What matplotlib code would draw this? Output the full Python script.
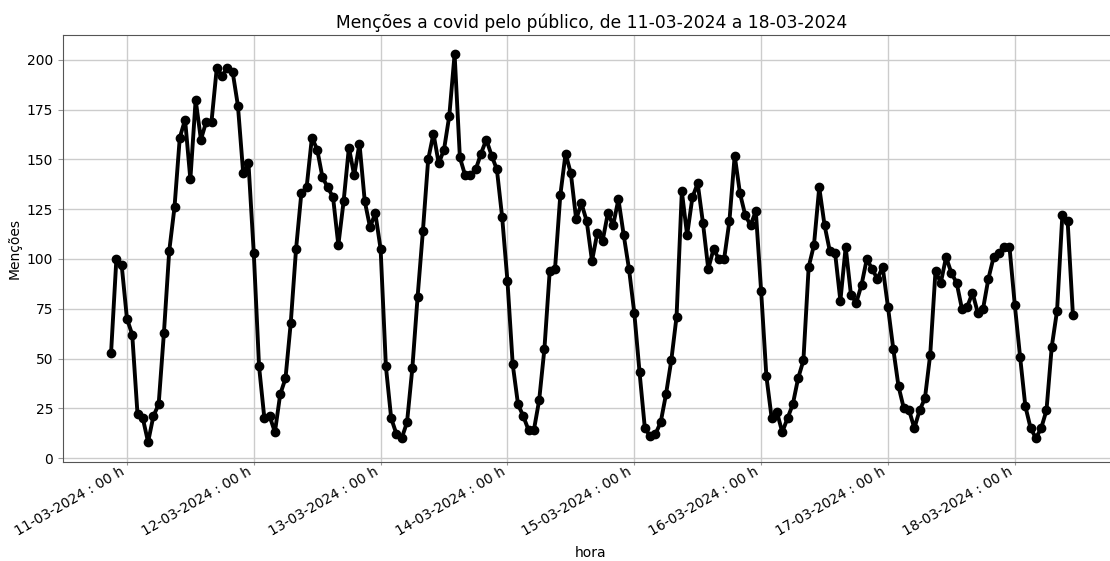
import pandas as pd
import matplotlib
matplotlib.use('Agg')
import matplotlib.pyplot as plt
import matplotlib.dates as mdates

# hourly counts, starting 10-03-2024 21h
inicio = '2024-03-10 21:00'
dia_10 = [53, 100, 97]
dia_11 = [70, 62, 22, 20, 8, 21, 27, 63, 104, 126, 161, 170, 140, 180, 160, 169,
          169, 196, 192, 196, 194, 177, 143, 148]
dia_12 = [103, 46, 20, 21, 13, 32, 40, 68, 105, 133, 136, 161, 155, 141, 136, 131,
          107, 129, 156, 142, 158, 129, 116, 123]
dia_13 = [105, 46, 20, 12, 10, 18, 45, 81, 114, 150, 163, 148, 155, 172, 203, 151,
          142, 142, 145, 153, 160, 152, 145, 121]
dia_14 = [89, 47, 27, 21, 14, 14, 29, 55, 94, 95, 132, 153, 143, 120, 128, 119,
          99, 113, 109, 123, 117, 130, 112, 95]
dia_15 = [73, 43, 15, 11, 12, 18, 32, 49, 71, 134, 112, 131, 138, 118, 95, 105,
          100, 100, 119, 152, 133, 122, 117, 124]
dia_16 = [84, 41, 20, 23, 13, 20, 27, 40, 49, 96, 107, 136, 117, 104, 103, 79,
          106, 82, 78, 87, 100, 95, 90, 96]
dia_17 = [76, 55, 36, 25, 24, 15, 24, 30, 52, 94, 88, 101, 93, 88, 75, 76,
          83, 73, 75, 90, 101, 103, 106, 106]
dia_18 = [77, 51, 26, 15, 10, 15, 24, 56, 74, 122, 119, 72]

mencoes = dia_10 + dia_11 + dia_12 + dia_13 + dia_14 + dia_15 + dia_16 + dia_17 + dia_18
horas = pd.date_range(inicio, periods=len(mencoes), freq='h')

fig = plt.figure(figsize=(11.1, 5.61), dpi=100)
# axes runs past the right edge of the picture, as in the original
ax = fig.add_axes([63 / 1110, (561 - 461.5) / 561, (1121 - 63) / 1110, (461.5 - 34.6) / 561])

ax.plot(horas, mencoes, color='black', linewidth=2.8, marker='o', markersize=6)

ax.xaxis.set_major_locator(mdates.DayLocator())
ax.xaxis.set_major_formatter(mdates.DateFormatter('%d-%m-%Y : %H h'))
ax.set_yticks([0, 25, 50, 75, 100, 125, 150, 175, 200])
for lbl in ax.get_xticklabels():
    lbl.set_rotation(30)
    lbl.set_horizontalalignment('right')

ax.grid(True, color='#cccccc', linewidth=1)
ax.set_axisbelow(True)
ax.tick_params(labelsize=10, color='#999999')
ax.tick_params(axis='x', length=2, pad=0.5)
for s in ax.spines.values():
    s.set_color('#555555')

ax.set_title('Menções a covid pelo público, de 11-03-2024 a 18-03-2024', fontsize=12.3, pad=4.5)
ax.set_xlabel('hora', fontsize=10, va='center')
ax.xaxis.set_label_coords((591 - 63) / 1058, (461.5 - 553) / 426.9)
ax.set_ylabel('Menções', fontsize=10)

fig.savefig('out.png', dpi=100)
